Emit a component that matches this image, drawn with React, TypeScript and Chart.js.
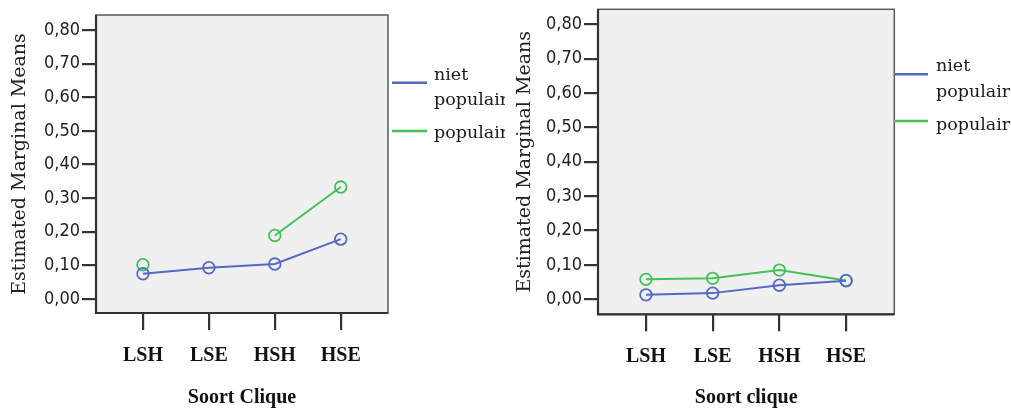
import React, { useEffect, useRef } from "react";
import { Chart, registerables } from "chart.js";

Chart.register(...registerables);

// ---- data ----
const categories = ["LSH", "LSE", "HSH", "HSE"];
const seriesNames = ["niet populair", "populair"];
const legendLines = [["niet", "populair"], ["populair"]];
const seriesColors = ["#5468c4", "#45c058"];

const leftNietPopulair = [0.075, 0.093, 0.104, 0.178];
const leftPopulair = [0.102, null, 0.189, 0.333];
const rightNietPopulair = [0.013, 0.018, 0.041, 0.054];
const rightPopulair = [0.058, 0.061, 0.085, 0.055];

const yTickValues = [0, 0.1, 0.2, 0.3, 0.4, 0.5, 0.6, 0.7, 0.8];
const yTitle = "Estimated Marginal Means";
const leftXTitle = "Soort Clique";
const rightXTitle = "Soort clique";

const tickFont = "'Liberation Sans Narrow', 'DejaVu Sans Condensed', 'Arial Narrow', sans-serif";
const serifFont = "'DejaVu Serif', serif";
const boldSerif = "'Liberation Serif', 'Times New Roman', serif";

type Panel = {
  left: number;
  width: number;
  area: { left: number; top: number; right: number; bottom: number };
  xRange: [number, number];
  yRange: [number, number];
  series: (number | null)[][];
  xTitle: string;
  legend: { x1: number; x2: number; textX: number; items: { lineY: number; baselines: number[] }[] };
};

const panels: Panel[] = [
  {
    left: 0,
    width: 505,
    area: { left: 96, top: 15, right: 388, bottom: 313 },
    xRange: [-0.712, 3.717],
    yRange: [-0.0416, 0.8446],
    series: [leftNietPopulair, leftPopulair],
    xTitle: leftXTitle,
    legend: {
      x1: 392,
      x2: 427,
      textX: 434,
      items: [
        { lineY: 82.7, baselines: [79.5, 105] },
        { lineY: 131, baselines: [138] },
      ],
    },
  },
  {
    left: 505,
    width: 506,
    area: { left: 93, top: 9.3, right: 389.3, bottom: 314.3 },
    xRange: [-0.719, 3.723],
    yRange: [-0.0436, 0.8436],
    series: [rightNietPopulair, rightPopulair],
    xTitle: rightXTitle,
    legend: {
      x1: 389,
      x2: 423,
      textX: 431,
      items: [
        { lineY: 74.3, baselines: [71, 97] },
        { lineY: 121, baselines: [130] },
      ],
    },
  },
];

const fmt = (v: number) => v.toFixed(2).replace(".", ",");

function ChartPanel({ panel }: { panel: Panel }) {
  const ref = useRef<HTMLCanvasElement | null>(null);

  useEffect(() => {
    if (!ref.current) return;
    const H = 408;
    const { area } = panel;

    const boxPlugin = {
      id: "box",
      beforeDraw(chart: any) {
        const { ctx, chartArea: a } = chart;
        ctx.save();
        ctx.fillStyle = "#f0f0f0";
        ctx.fillRect(a.left, a.top, a.right - a.left, a.bottom - a.top);
        ctx.restore();
      },
      beforeDatasetsDraw(chart: any) {
        const { ctx, chartArea: a } = chart;
        ctx.save();
        ctx.strokeStyle = "#5a5a5a";
        ctx.lineWidth = 1.5;
        ctx.strokeRect(a.left, a.top, a.right - a.left, a.bottom - a.top);
        ctx.strokeStyle = "#333";
        ctx.lineWidth = 2.2;
        ctx.beginPath();
        ctx.moveTo(a.left, a.top);
        ctx.lineTo(a.left, a.bottom);
        ctx.lineTo(a.right, a.bottom);
        ctx.stroke();
        ctx.restore();
      },
      afterDraw(chart: any) {
        const { ctx } = chart;
        const lg = panel.legend;
        ctx.save();
        chart.data.datasets.forEach((ds: any, i: number) => {
          const item = lg.items[i];
          ctx.strokeStyle = ds.borderColor;
          ctx.lineWidth = 2.5;
          ctx.beginPath();
          ctx.moveTo(lg.x1, item.lineY);
          ctx.lineTo(lg.x2, item.lineY);
          ctx.stroke();
          ctx.fillStyle = "#1a1a1a";
          ctx.font = `17.5px ${serifFont}`;
          ctx.textAlign = "left";
          ctx.textBaseline = "alphabetic";
          legendLines[i].forEach((t, j) => {
            ctx.fillText(t, lg.textX, item.baselines[j]);
          });
        });
        ctx.restore();
      },
    };

    const chart = new Chart(ref.current, {
      type: "line",
      data: {
        datasets: panel.series.map((vals, i) => ({
          label: seriesNames[i],
          data: vals.map((v, k) => ({ x: k, y: v })),
          borderColor: seriesColors[i],
          backgroundColor: "rgba(0,0,0,0)",
          borderWidth: 2,
          pointRadius: 5.8,
          pointBorderWidth: 1.8,
          pointBorderColor: seriesColors[i],
          pointBackgroundColor: "rgba(0,0,0,0)",
          spanGaps: false,
          tension: 0,
        })),
      },
      options: {
        responsive: false,
        animation: false,
        events: [],
        layout: {
          padding: { left: 0, top: area.top, right: panel.width - area.right, bottom: 0 },
        },
        plugins: { legend: { display: false }, tooltip: { enabled: false }, title: { display: false } },
        scales: {
          x: {
            type: "linear",
            min: panel.xRange[0],
            max: panel.xRange[1],
            afterBuildTicks: (s: any) => {
              s.ticks = categories.map((_, i) => ({ value: i }));
            },
            afterFit: (s: any) => {
              s.height = H - area.bottom;
              s.paddingLeft = 0;
              s.paddingRight = 0;
            },
            ticks: {
              autoSkip: false,
              maxRotation: 0,
              callback: (v: any) => categories[v as number],
              font: { family: boldSerif, size: 20, weight: "bold" },
              color: "#111",
              padding: 14,
            },
            grid: { drawOnChartArea: false, tickLength: 17, color: "#333", lineWidth: 2.2 },
            border: { display: false },
            title: {
              display: true,
              text: panel.xTitle,
              font: { family: boldSerif, size: 20, weight: "bold" },
              color: "#111",
              padding: { top: 0, bottom: -2 },
            },
          },
          y: {
            type: "linear",
            min: panel.yRange[0],
            max: panel.yRange[1],
            afterBuildTicks: (s: any) => {
              s.ticks = yTickValues.map((v) => ({ value: v }));
            },
            afterFit: (s: any) => {
              s.width = area.left;
              s.paddingTop = 0;
              s.paddingBottom = 0;
            },
            ticks: {
              callback: (v: any) => fmt(Number(v)),
              font: { family: tickFont, size: 18 },
              color: "#222",
              padding: 2,
            },
            grid: { drawOnChartArea: false, tickLength: 14, color: "#333", lineWidth: 2.2 },
            border: { display: false },
            title: {
              display: true,
              text: yTitle,
              font: { family: serifFont, size: 19 },
              color: "#222",
              padding: { top: 9, bottom: 0 },
            },
          },
        },
      },
      plugins: [boxPlugin],
    } as any);

    return () => chart.destroy();
  }, [panel]);

  return (
    <canvas
      ref={ref}
      width={panel.width}
      height={408}
      style={{ position: "absolute", left: panel.left, top: 0, width: panel.width, height: 408 }}
    />
  );
}

export default function App() {
  return (
    <div style={{ position: "fixed", left: 0, top: 0, width: 1011, height: 408, background: "#fff", overflow: "hidden" }}>
      {panels.map((p, i) => (
        <ChartPanel key={i} panel={p} />
      ))}
    </div>
  );
}
